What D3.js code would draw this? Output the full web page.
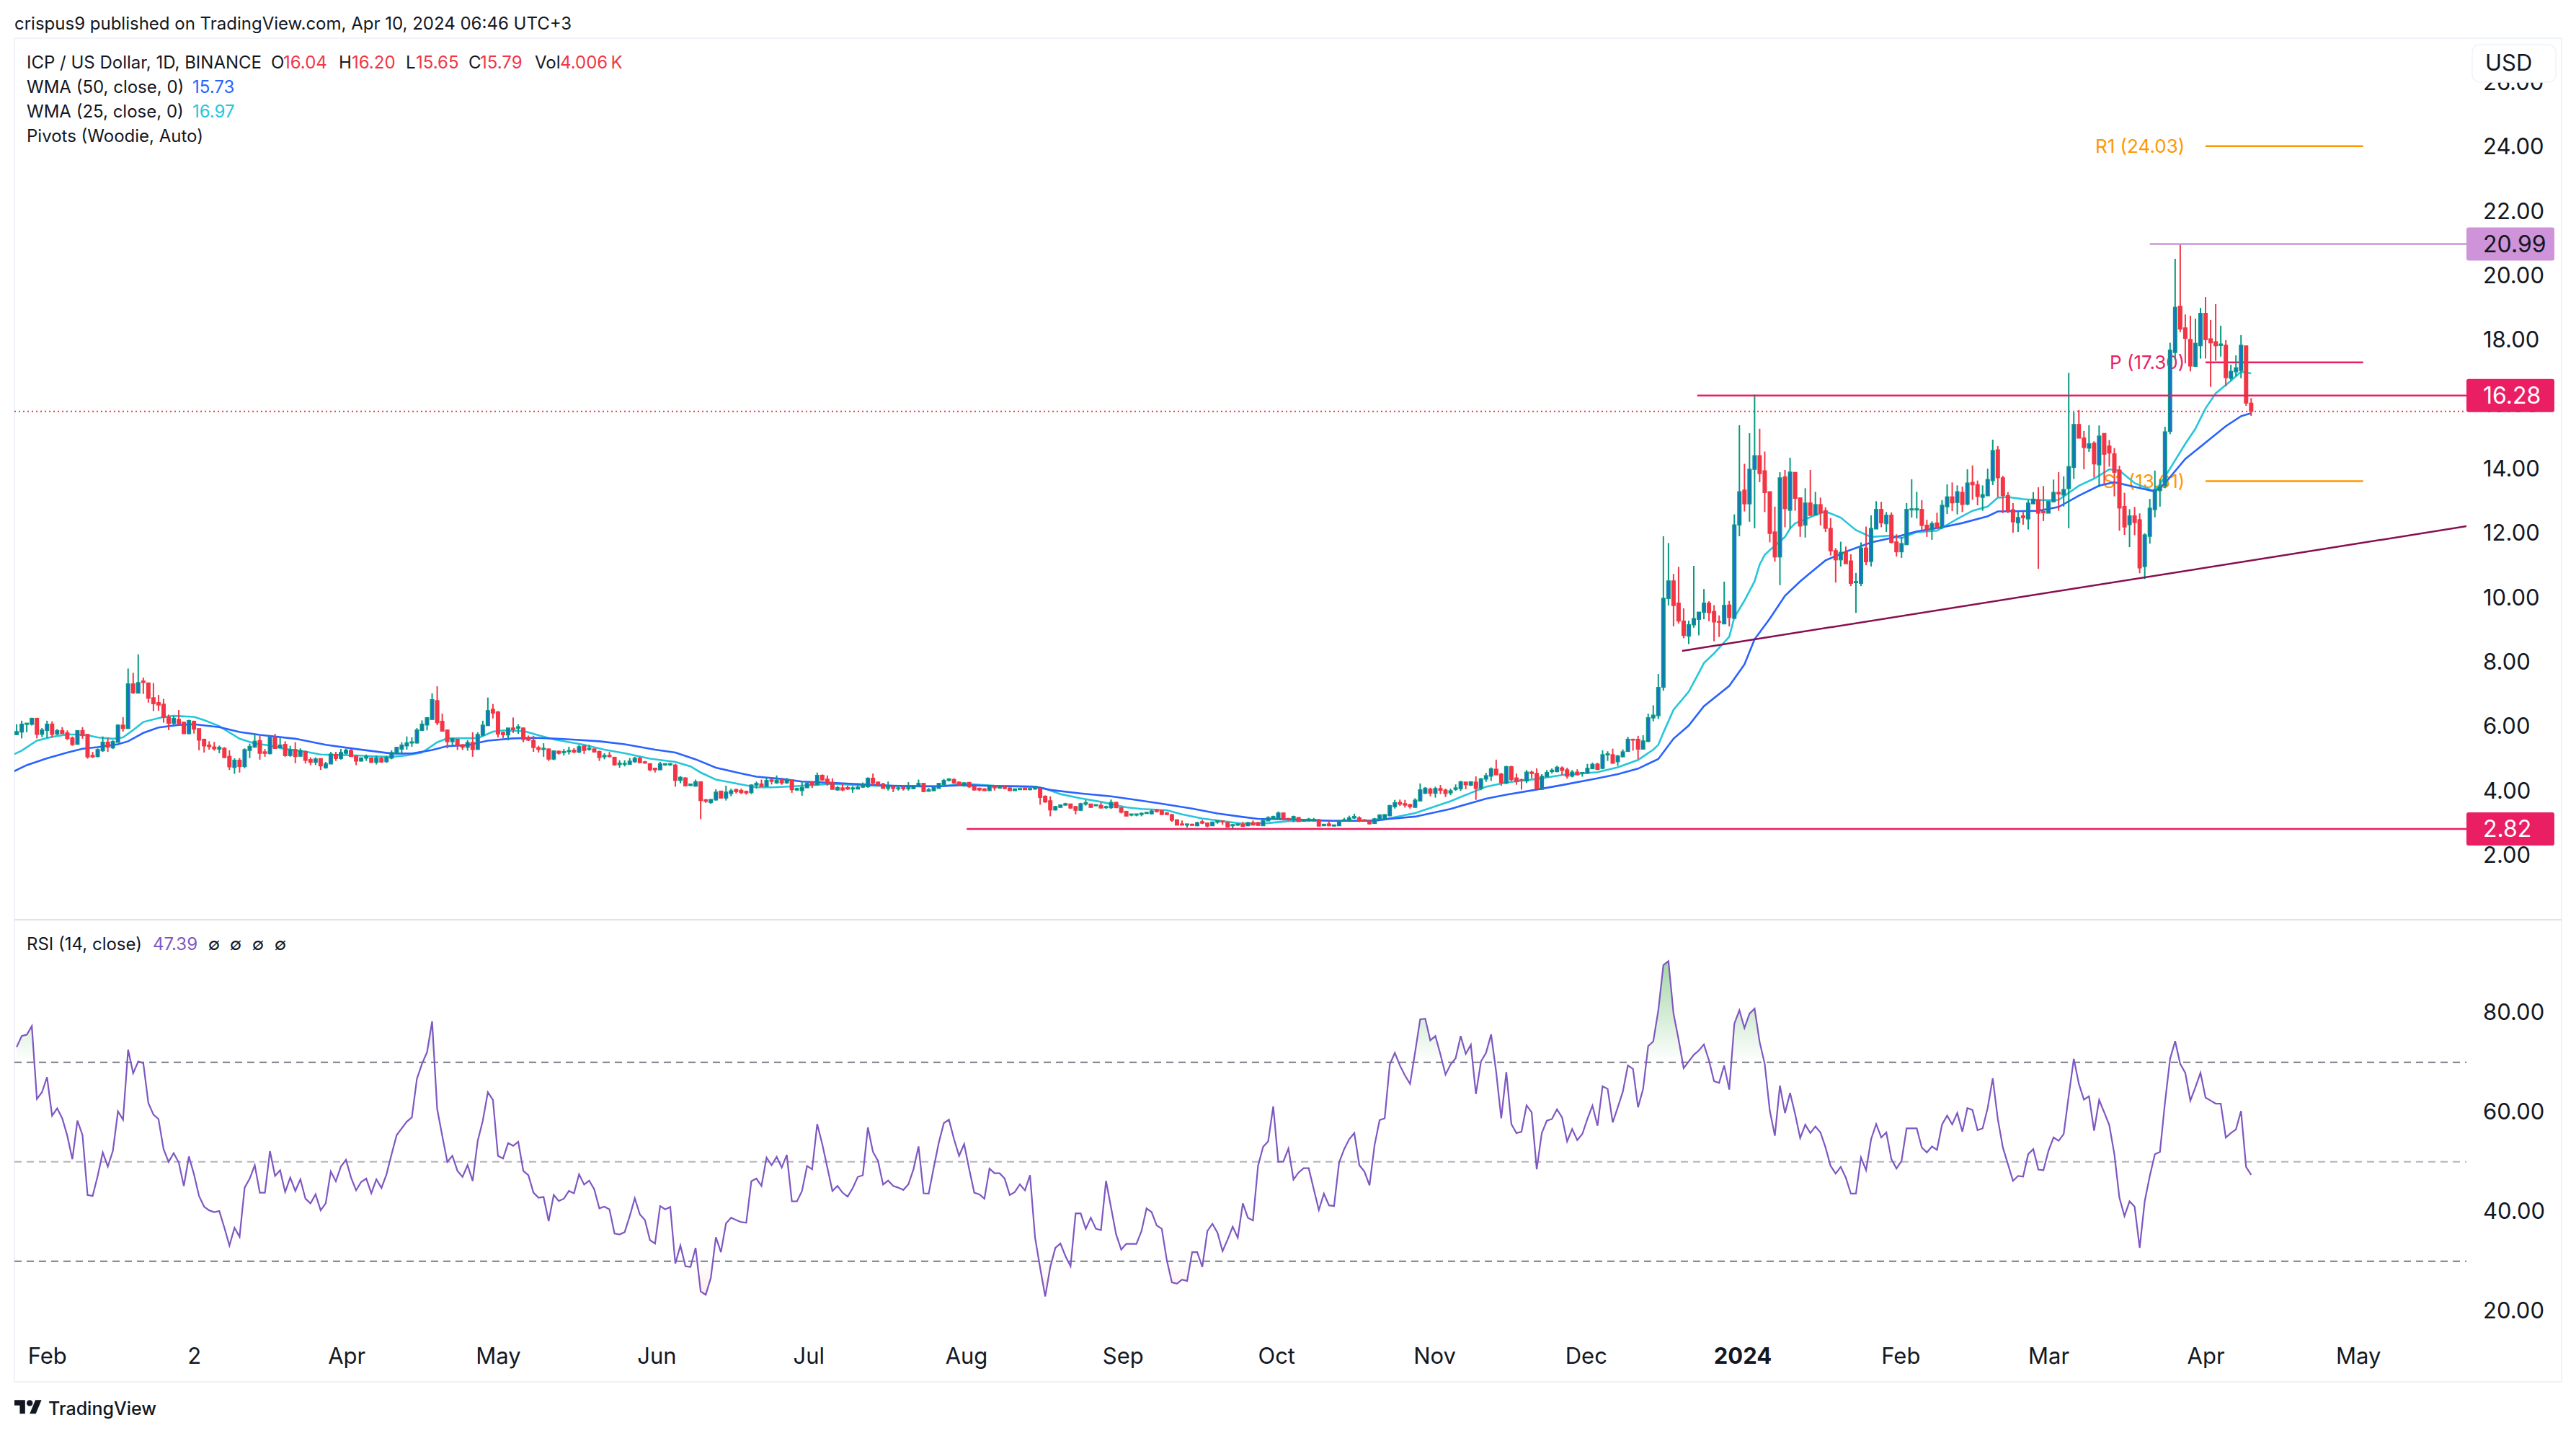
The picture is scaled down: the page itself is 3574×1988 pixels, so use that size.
<!DOCTYPE html>
<html>
<head>
<meta charset="utf-8">
<script src="https://cdn.jsdelivr.net/npm/d3@7"></script>
<style>
body { margin: 0; background: #fff; }
text { font-family: Inter, "Noto Sans", sans-serif; fill: #131722; }
</style>
</head>
<body>
<script>
// daily candles
var opens = [
5.75,5.83,6.07,6.07,6.25,5.76,5.88,6.07,5.77,5.87,5.80,5.64,5.45,5.87,5.75,5.10,5.07,5.25,5.51,5.34,
5.51,6.04,5.94,7.32,7.04,7.41,7.35,6.89,6.74,6.69,6.29,6.10,6.22,6.13,5.78,6.16,5.93,5.60,5.42,5.36,
5.30,5.32,5.07,4.73,4.95,4.76,5.26,5.36,5.56,5.21,5.16,5.66,5.34,5.44,5.10,5.28,5.08,5.22,4.97,4.89,
5.00,4.72,4.84,5.13,5.01,5.17,5.25,5.08,4.93,5.02,5.02,4.89,5.01,4.91,5.02,5.17,5.30,5.40,5.49,5.49,
5.88,6.05,6.22,6.80,6.16,5.89,5.53,5.60,5.43,5.36,5.50,5.29,5.73,6.03,6.53,6.45,5.81,5.74,5.95,5.95,
5.95,5.62,5.57,5.34,5.29,5.30,4.99,5.23,5.19,5.22,5.26,5.21,5.39,5.29,5.30,5.22,5.06,5.10,5.04,4.82,
4.83,4.83,4.91,5.01,4.90,4.84,4.70,4.66,4.81,4.81,4.80,4.33,4.40,4.17,4.15,4.28,3.72,3.64,3.72,3.99,
3.78,3.92,4.04,4.01,3.98,3.95,4.18,4.21,4.14,4.34,4.25,4.32,4.25,4.34,4.03,4.01,4.10,4.26,4.19,4.48,
4.36,4.26,4.03,4.09,4.10,4.06,4.06,4.12,4.13,4.39,4.27,4.21,4.08,4.13,4.07,4.11,4.07,4.07,4.15,4.23,
3.99,4.01,4.08,4.20,4.33,4.35,4.27,4.16,4.26,4.13,4.08,4.06,4.01,4.14,4.09,4.13,4.09,4.01,4.04,4.08,
4.04,
4.06,4.07,3.83,3.69,3.41,3.49,3.56,3.59,3.51,3.40,3.59,3.59,3.54,3.55,3.48,3.48,3.64,3.48,3.36,3.25,
3.25,3.27,3.30,3.29,3.40,3.38,3.31,3.26,3.10,2.97,2.94,2.96,2.92,3.04,3.00,2.92,3.03,3.06,3.01,2.92,
2.94,2.96,2.92,3.01,3.01,2.92,3.07,3.13,3.13,3.31,3.14,3.13,3.17,3.06,3.07,3.07,3.10,2.92,2.97,2.91,
2.92,3.06,3.07,3.16,3.16,3.10,3.06,2.99,3.12,3.13,3.23,3.51,3.64,3.60,3.57,3.49,3.69,3.93,4.05,3.93,
4.07,4.02,3.94,4.05,4.07,4.27,4.18,4.27,4.08,4.37,4.46,4.67,4.52,4.24,4.75,4.40,4.35,4.31,4.58,4.54,
4.05,4.44,4.60,4.60,4.71,4.65,4.46,4.58,4.55,4.55,4.69,4.83,4.70,5.12,5.12,4.91,5.06,5.23,5.60,5.60,
5.30,5.54,6.27,6.34,7.22,9.98,10.52,9.83,9.27,8.81,9.16,9.33,9.55,9.83,9.57,9.26,9.19,9.77,9.36,12.26,
13.34,12.92,13.99,14.41,13.94,13.29,12.04,11.27,13.75,12.72,13.89,13.10,12.26,12.94,12.57,12.89,12.70,12.15,11.46,11.18,
11.41,11.14,10.47,10.45,11.54,11.13,12.14,12.74,12.30,12.56,11.73,11.43,11.65,12.73,12.73,12.74,12.25,12.12,12.32,12.19,
12.83,13.13,12.96,13.27,12.91,13.58,13.51,13.12,13.17,13.64,14.59,13.72,13.17,12.73,12.33,12.54,12.45,12.92,13.04,12.68,
12.63,12.98,13.27,13.19,13.39,14.05,15.38,14.96,14.65,14.80,14.13,15.10,14.71,14.47,13.96,12.83,12.27,12.54,12.42,10.97,
11.91,12.74,13.33,13.48,15.17,17.62,19.05,18.38,18.02,17.19,17.83,18.83,18.04,17.95,17.84,17.84,16.82,17.02,17.06,17.82,16.04];

var highs = [
6.07,6.18,6.10,6.27,6.27,5.95,6.18,6.16,5.92,5.98,5.88,5.69,5.88,5.98,5.77,5.21,5.32,5.69,5.66,5.57,
6.07,6.29,7.80,7.67,8.24,7.52,7.35,7.35,6.98,6.86,6.37,6.33,6.51,6.14,6.21,6.18,5.93,5.62,5.54,5.52,
5.41,5.36,5.26,5.01,5.02,5.32,5.47,5.77,5.71,5.30,5.68,5.77,5.64,5.54,5.40,5.51,5.32,5.25,5.04,5.04,
5.01,4.90,5.21,5.21,5.30,5.31,5.30,5.10,5.04,5.13,5.04,5.10,5.06,5.08,5.26,5.37,5.51,5.69,5.66,5.95,
6.19,6.29,7.03,7.25,6.40,5.90,5.64,5.62,5.45,5.58,5.82,5.82,6.18,6.90,6.70,6.48,5.84,5.95,6.28,6.07,
5.97,5.72,5.71,5.40,5.48,5.31,5.25,5.25,5.30,5.37,5.33,5.43,5.43,5.43,5.32,5.25,5.17,5.21,5.06,4.95,
4.95,5.02,5.06,5.06,4.93,4.86,4.72,4.90,4.86,4.87,4.84,4.46,4.42,4.22,4.35,4.28,3.75,3.75,4.05,3.99,
4.16,4.07,4.07,4.07,4.01,4.20,4.29,4.35,4.42,4.40,4.48,4.40,4.40,4.35,4.10,4.29,4.29,4.27,4.57,4.51,
4.48,4.39,4.15,4.25,4.16,4.15,4.24,4.26,4.42,4.54,4.29,4.25,4.29,4.15,4.18,4.18,4.27,4.18,4.35,4.24,
4.09,4.16,4.24,4.37,4.39,4.39,4.29,4.25,4.27,4.16,4.10,4.08,4.16,4.18,4.18,4.16,4.10,4.07,4.09,4.10,
4.10,
4.15,4.10,3.86,3.83,3.53,3.58,3.63,3.60,3.53,3.63,3.72,3.60,3.58,3.64,3.54,3.73,3.66,3.49,3.38,3.28,
3.29,3.33,3.34,3.42,3.44,3.40,3.34,3.28,3.10,3.08,2.98,2.98,3.04,3.10,3.01,3.04,3.08,3.08,3.03,2.97,
2.98,3.04,3.04,3.08,3.04,3.10,3.21,3.23,3.36,3.33,3.16,3.23,3.18,3.13,3.16,3.16,3.13,2.97,3.08,2.95,
3.10,3.16,3.23,3.29,3.21,3.12,3.08,3.16,3.27,3.27,3.57,3.72,3.73,3.72,3.60,3.77,4.23,4.12,4.10,4.13,
4.18,4.07,4.07,4.20,4.31,4.28,4.29,4.45,4.40,4.56,4.73,4.97,4.56,4.78,4.78,4.54,4.37,4.65,4.63,4.70,
4.52,4.65,4.70,4.78,4.76,4.72,4.65,4.67,4.58,4.84,4.88,4.87,5.26,5.23,5.31,5.12,5.29,5.68,5.62,5.71,
5.73,6.40,6.66,7.63,11.91,11.70,10.74,10.96,9.67,9.29,10.99,9.55,10.27,9.89,9.77,9.45,10.50,9.90,12.59,15.36,
14.16,15.11,16.31,15.25,14.54,13.29,12.83,13.90,13.97,14.35,13.90,13.10,13.40,13.97,13.29,13.11,12.81,12.47,11.54,11.74,
11.59,11.35,10.77,11.72,12.21,12.56,13.00,12.98,12.66,12.65,11.97,11.89,12.94,13.68,13.29,13.03,12.42,12.37,12.64,13.03,
13.52,13.58,13.49,13.45,13.99,14.11,13.64,13.49,14.01,14.91,14.71,13.79,13.28,12.94,12.68,12.66,13.03,13.28,13.43,13.47,
13.00,13.67,13.90,13.77,16.99,15.76,15.83,15.18,15.36,14.86,15.35,15.10,14.90,14.65,14.10,13.26,12.75,12.82,12.62,12.00,
13.07,13.95,13.68,15.31,17.92,20.53,20.99,18.80,18.76,18.67,19.00,19.34,18.63,19.12,18.45,18.00,17.24,17.53,18.16,17.82,16.20];

var lows = [
5.73,5.63,5.82,6.03,5.63,5.67,5.64,5.66,5.73,5.77,5.58,5.40,5.44,5.62,5.00,5.02,5.04,5.21,5.21,5.30,
5.51,5.84,5.94,7.01,7.04,7.01,6.74,6.48,6.49,6.12,5.89,6.00,6.03,5.78,5.76,5.78,5.26,5.19,5.28,5.25,
5.17,5.02,4.65,4.53,4.57,4.70,5.02,5.36,4.97,5.06,5.13,5.31,5.34,5.06,5.06,4.86,5.06,4.85,4.80,4.80,
4.65,4.69,4.84,4.93,4.97,5.13,5.06,4.80,4.91,4.93,4.87,4.82,4.87,4.87,4.98,5.13,5.13,5.28,5.37,5.47,
5.86,5.88,6.22,6.04,5.84,5.32,5.42,5.27,5.27,5.25,5.06,5.28,5.69,6.03,6.25,5.66,5.64,5.57,5.80,5.77,
5.51,5.55,5.21,5.19,5.06,4.93,4.95,5.13,5.10,5.13,5.17,5.17,5.15,5.25,5.19,4.93,4.98,5.04,4.78,4.72,
4.76,4.81,4.87,4.86,4.84,4.61,4.57,4.64,4.78,4.78,4.13,4.24,4.15,4.15,4.13,3.12,3.63,3.60,3.70,3.77,
3.70,3.83,3.92,3.90,3.88,3.90,4.07,4.14,4.14,4.20,4.22,4.19,4.22,3.94,4.00,3.85,4.09,4.09,4.18,4.31,
4.16,4.05,4.01,3.99,4.03,3.94,4.05,4.09,4.10,4.16,4.15,4.07,4.01,3.96,4.01,4.01,4.01,4.05,4.13,3.96,
3.98,3.99,4.08,4.18,4.29,4.22,4.16,4.13,4.09,4.01,3.99,4.00,4.00,4.01,4.07,4.05,4.00,4.01,4.03,4.03,
4.02,
4.04,3.57,3.63,3.21,3.39,3.48,3.54,3.44,3.27,3.38,3.54,3.47,3.54,3.46,3.44,3.44,3.48,3.30,3.21,3.21,
3.21,3.21,3.29,3.27,3.33,3.25,3.25,3.04,2.93,2.93,2.86,2.92,2.90,2.97,2.87,2.91,2.98,2.95,2.86,2.84,
2.91,2.90,2.90,2.93,2.91,2.91,3.06,3.12,3.12,3.08,3.07,3.03,3.05,3.05,3.06,3.06,2.90,2.91,2.90,2.90,
2.91,3.04,3.06,3.13,3.03,3.06,2.95,2.98,3.10,3.12,3.21,3.45,3.53,3.48,3.45,3.48,3.68,3.90,3.83,3.79,
3.90,3.81,3.87,4.00,4.00,4.05,4.15,3.72,4.02,4.28,4.31,4.50,4.16,4.21,4.30,4.19,4.04,4.24,4.39,4.07,
4.03,4.43,4.54,4.58,4.49,4.38,4.42,4.49,4.44,4.54,4.69,4.65,4.67,4.93,4.86,4.78,5.05,5.21,5.25,4.99,
5.29,5.51,6.16,6.23,7.11,9.76,9.11,9.20,8.74,8.56,9.07,8.83,9.33,9.27,8.65,8.78,9.18,9.11,9.36,11.91,
12.68,12.36,12.16,13.59,12.66,11.72,11.12,10.39,12.19,12.14,12.70,11.89,11.87,12.56,12.56,12.25,12.04,11.31,10.47,10.97,
11.06,10.36,9.53,10.36,11.01,10.97,12.13,12.19,12.04,11.69,11.28,11.24,11.65,12.49,12.46,12.08,11.89,11.80,12.13,12.13,
12.60,12.69,12.59,12.66,12.87,13.04,12.87,12.70,13.16,13.50,13.13,12.63,12.63,12.02,12.04,12.27,12.12,12.92,10.90,12.38,
12.63,12.98,12.70,12.83,12.16,13.69,14.96,13.99,14.53,13.73,13.43,13.52,14.07,13.15,12.08,11.95,11.57,11.94,10.76,10.58,
11.68,12.50,12.83,13.40,15.08,17.39,18.25,17.28,17.03,17.18,17.43,17.43,16.55,17.36,17.49,16.57,16.74,16.88,16.82,15.96,15.65];

var closes = [
5.84,6.07,6.10,6.25,5.76,5.89,6.07,5.76,5.87,5.78,5.63,5.44,5.87,5.72,5.06,5.06,5.28,5.51,5.36,5.53,
6.04,5.94,7.32,7.05,7.36,7.37,6.88,6.71,6.67,6.28,6.10,6.25,6.10,5.78,6.18,5.92,5.58,5.40,5.38,5.31,
5.35,5.04,4.75,4.95,4.76,5.28,5.38,5.54,5.17,5.17,5.66,5.32,5.42,5.10,5.28,5.07,5.25,4.95,4.89,4.99,
4.78,4.84,5.14,5.01,5.19,5.26,5.07,4.93,5.02,5.06,4.89,5.02,4.90,5.04,5.19,5.35,5.42,5.49,5.52,5.89,
6.07,6.27,6.83,6.12,5.86,5.53,5.62,5.42,5.36,5.50,5.29,5.75,6.04,6.49,6.42,5.77,5.75,5.95,5.91,5.99,
5.60,5.58,5.35,5.29,5.32,4.99,5.24,5.17,5.22,5.25,5.21,5.37,5.26,5.32,5.21,5.04,5.10,5.07,4.81,4.86,
4.85,4.92,5.01,4.88,4.87,4.66,4.66,4.84,4.84,4.84,4.33,4.42,4.16,4.21,4.28,3.70,3.68,3.73,3.96,3.78,
3.96,4.00,3.98,3.95,3.94,4.18,4.23,4.14,4.32,4.30,4.33,4.25,4.35,4.04,4.07,4.10,4.23,4.19,4.48,4.34,
4.22,4.05,4.10,4.03,4.06,4.09,4.11,4.18,4.39,4.25,4.18,4.08,4.12,4.08,4.09,4.07,4.10,4.16,4.23,3.98,
4.03,4.10,4.23,4.32,4.37,4.25,4.19,4.25,4.13,4.03,4.03,4.01,4.13,4.10,4.14,4.08,4.01,4.06,4.07,4.04,
4.07,
4.12,3.80,3.66,3.41,3.51,3.56,3.60,3.47,3.40,3.60,3.63,3.49,3.57,3.47,3.51,3.64,3.48,3.34,3.22,3.28,
3.28,3.30,3.33,3.37,3.36,3.27,3.27,3.09,2.94,2.94,2.97,2.93,3.01,3.00,2.91,3.03,3.07,3.04,2.88,2.95,
2.97,2.90,3.01,2.94,2.93,3.08,3.17,3.20,3.31,3.13,3.11,3.20,3.05,3.11,3.12,3.11,2.91,2.96,2.92,2.94,
3.06,3.10,3.16,3.20,3.06,3.07,2.98,3.13,3.25,3.26,3.54,3.63,3.59,3.56,3.51,3.71,4.03,4.08,3.93,4.07,
4.02,3.92,4.00,4.09,4.28,4.19,4.28,4.08,4.37,4.47,4.68,4.50,4.26,4.75,4.35,4.29,4.34,4.58,4.54,4.07,
4.45,4.57,4.64,4.73,4.64,4.46,4.58,4.50,4.57,4.70,4.82,4.67,5.12,5.15,4.86,5.08,5.21,5.60,5.58,5.30,
5.55,6.27,6.35,7.21,9.98,10.52,9.76,9.28,8.83,9.16,9.35,9.55,9.83,9.54,9.25,9.24,9.76,9.39,12.26,13.29,
12.92,13.99,14.41,13.86,13.27,12.00,11.27,13.72,12.77,13.90,13.09,12.23,12.94,12.56,12.89,12.64,12.16,11.46,11.18,11.41,
11.06,10.45,10.50,11.54,11.12,12.15,12.74,12.33,12.56,11.72,11.43,11.68,12.74,12.76,12.76,12.25,12.13,12.30,12.19,12.87,
13.13,12.95,13.29,12.90,13.56,13.51,13.15,13.20,13.67,14.57,13.73,13.18,12.70,12.36,12.49,12.49,12.94,13.06,12.63,12.64,
12.99,13.27,13.23,13.36,14.07,15.38,14.96,14.67,14.78,14.16,15.02,14.46,14.50,13.90,12.79,12.20,12.54,12.34,10.93,11.95,
12.78,13.36,13.44,15.15,17.69,19.02,18.35,18.06,17.20,17.90,18.83,18.02,17.92,17.83,17.88,16.84,17.03,17.14,17.84,16.05,15.79];

// moving averages, read at the bars listed in the *Bars arrays
var wma25Bars = [-1,1,4,7,10,12,14,16,19,21,23,25,29,31,35,37,40,44,47,50,53,57,60,62,67,71,74,77,80,82,83,85,88,91,94,96,100,103,106,112,116,120,125,130,133,135,138,143,146,149,153,157,161,166,171,175,182,187,193,201,203,206,210,214,219,222,227,230,234,239,242,247,251,256,260,266,270,276,283,290,294,300,305,312,316,320,323,324,325,327,330,332,333,335,338,339,341,343,344,345,346,349,350,351,355,357,360,363,366,370,372,375,379,383,386,389,391,393,396,399,403,407,410,413,415,418,422,424,428,430,432,434,437,439,441];
var wma25 = [5.10,5.25,5.56,5.68,5.75,5.75,5.73,5.66,5.62,5.66,5.89,6.14,6.30,6.33,6.30,6.20,6.01,5.62,5.47,5.41,5.30,5.22,5.13,5.12,5.10,5.07,5.06,5.10,5.19,5.40,5.51,5.63,5.64,5.64,5.84,5.88,5.86,5.73,5.60,5.43,5.28,5.17,5.00,4.90,4.76,4.57,4.35,4.20,4.11,4.11,4.14,4.18,4.22,4.18,4.15,4.15,4.14,4.22,4.16,4.13,4.07,3.90,3.77,3.66,3.49,3.44,3.40,3.27,3.14,3.04,2.98,3.00,3.06,3.08,3.07,3.07,3.12,3.31,3.68,4.13,4.26,4.37,4.49,4.58,4.73,4.96,5.28,5.43,5.81,6.52,7.08,7.67,7.97,8.27,8.79,9.39,9.91,10.51,11.03,11.33,11.48,11.89,12.15,12.31,12.57,12.68,12.49,12.10,11.89,11.93,11.85,12.04,12.08,12.45,12.70,12.83,13.11,13.13,13.06,13.03,13.04,13.48,13.70,13.99,13.95,13.56,13.30,13.76,14.78,15.25,15.88,16.35,16.74,17.02,16.97];
var wma50Bars = [-1,2,6,10,13,16,20,22,25,28,32,35,40,44,48,55,61,67,74,78,82,85,89,93,98,102,108,115,120,126,130,134,138,143,146,151,155,161,166,173,178,183,187,193,201,204,210,216,221,226,232,237,242,245,251,256,260,268,271,276,283,290,294,300,305,312,316,320,324,327,330,333,338,341,343,346,349,352,354,357,361,366,371,375,380,384,389,391,399,403,407,411,414,418,422,424,428,432,436,439,441];
var wma50 = [4.57,4.80,5.01,5.19,5.31,5.36,5.45,5.54,5.80,5.97,6.05,6.07,5.98,5.83,5.74,5.62,5.43,5.30,5.16,5.16,5.27,5.39,5.42,5.56,5.63,5.65,5.61,5.54,5.45,5.28,5.19,4.98,4.72,4.54,4.44,4.37,4.29,4.25,4.21,4.16,4.14,4.15,4.18,4.15,4.13,4.03,3.92,3.83,3.72,3.60,3.45,3.30,3.19,3.13,3.12,3.09,3.07,3.07,3.13,3.20,3.44,3.76,3.88,4.04,4.18,4.39,4.52,4.69,4.99,5.62,6.03,6.63,7.26,7.93,8.71,9.35,10.06,10.51,10.77,11.16,11.43,11.72,11.89,12.06,12.19,12.32,12.53,12.68,12.70,12.82,13.17,13.48,13.59,13.44,13.30,13.56,14.31,14.82,15.33,15.64,15.73];

var rsiValues = [
73.07,75.29,75.56,77.31,62.64,63.99,67.01,59.28,60.76,58.74,55.24,50.53,58.27,55.37,43.33,43.13,47.17,51.88,49.05,52.21,
60.15,58.47,72.53,67.82,70.18,69.84,61.83,59.48,58.60,52.55,49.99,51.74,49.86,45.15,51.07,47.50,43.13,40.98,40.24,39.90,
40.10,36.74,33.17,36.74,34.92,44.81,46.63,49.32,43.80,43.80,52.15,47.17,48.31,43.94,46.83,44.14,46.49,42.59,41.65,43.47,
40.24,41.65,48.04,46.09,49.05,50.40,46.83,44.27,45.95,46.63,43.67,46.49,44.74,47.50,51.54,55.37,56.72,58.07,58.94,66.68,
69.70,72.06,78.25,60.62,55.24,49.99,51.20,48.18,46.96,49.32,46.16,54.23,58.27,63.99,62.44,51.20,50.66,53.76,53.22,54.03,
48.18,47.30,43.80,42.79,42.93,38.08,43.33,42.12,42.59,44.14,43.67,47.50,45.42,46.23,44.47,40.64,40.98,40.44,35.59,35.39,
35.86,39.09,42.66,39.43,38.29,34.25,33.57,41.11,40.44,40.91,29.54,33.17,29.00,28.87,32.70,23.95,23.28,26.65,34.85,31.83,
37.61,38.76,38.29,37.88,37.75,46.09,46.63,45.15,50.87,49.32,51.00,48.85,51.41,42.05,42.05,44.14,49.18,48.51,57.59,53.56,
48.85,44.14,45.15,43.80,42.99,44.68,46.96,47.30,56.92,52.01,50.19,45.42,46.23,45.15,44.81,44.34,45.48,48.51,53.09,43.67,
43.60,48.85,53.89,57.80,58.47,54.57,51.20,53.56,48.51,43.80,43.47,42.59,48.65,47.70,47.70,46.63,43.33,43.94,45.48,44.27,
47.30,34.72,28.66,22.95,28.87,32.70,33.57,31.02,29.00,39.63,39.63,36.54,38.76,36.54,36.27,46.16,40.77,35.39,32.36,33.51,
33.51,33.51,36.07,40.64,39.90,37.21,36.54,30.21,25.77,25.50,26.31,26.04,31.83,31.83,28.87,36.07,37.55,35.73,32.03,34.38,
36.94,34.72,41.65,38.76,38.22,49.18,53.02,54.10,61.16,49.99,50.06,52.68,46.43,47.84,48.71,48.71,44.50,40.30,43.60,41.25,
41.11,49.86,52.55,54.57,55.78,49.32,48.04,45.28,53.36,58.40,58.74,69.57,71.92,69.37,67.35,65.67,72.06,78.65,78.79,74.42,
75.29,71.59,67.55,69.57,70.85,75.29,71.72,73.54,63.65,70.18,71.92,75.63,68.02,58.74,68.02,57.59,55.78,56.05,61.36,59.95,
48.51,55.78,58.27,58.60,60.55,58.94,54.10,56.59,54.37,55.58,58.60,61.30,57.26,65.20,64.66,57.93,60.96,64.12,69.37,68.70,
60.96,64.66,73.27,74.21,80.47,89.55,90.36,79.80,74.62,68.83,70.18,71.52,72.40,73.61,70.38,66.21,65.87,69.37,64.52,
77.78,80.47,76.90,79.80,80.81,74.08,69.70,60.29,55.24,65.33,59.81,63.85,59.61,54.77,57.46,55.78,57.12,55.91,52.88,49.18,
47.64,48.98,46.83,43.60,43.60,50.87,48.31,54.57,57.59,54.90,55.91,50.53,48.65,50.19,56.72,56.72,56.72,52.88,51.88,53.09,
52.41,57.53,59.28,57.53,59.81,56.05,60.82,60.42,56.38,56.72,60.82,66.81,58.60,52.88,49.52,46.16,47.17,47.03,51.54,52.55,
48.45,48.31,52.21,54.90,54.23,55.58,63.31,70.71,65.67,62.51,63.18,56.25,62.44,59.95,57.39,51.54,42.79,39.09,42.05,40.98,
32.70,42.12,47.17,51.54,52.01,61.97,70.71,74.28,69.70,67.89,62.30,65.00,67.89,62.91,62.30,61.70,61.70,54.90,55.78,56.52,
60.22,48.98,47.39];

// axis ticks (bar position of each month label)
var timeTickBars = [6,35,65.1,95,126.3,156.3,187.4,218.3,248.6,279.8,309.7,340.6,371.8,401,432,462.1];
var timeTickLabels = ["Feb","2","Apr","May","Jun","Jul","Aug","Sep","Oct","Nov","Dec","2024","Feb","Mar","Apr","May"];
var priceTicks = [2,4,6,8,10,12,14,16,18,20,22,24,26];
var rsiTicks = [20,40,60,80];
var rsiBands = [70,50,30];
var lastClose = 15.79;
var pivotNames = ["R1 (24.03)","P (17.30)","S1 (13.61)"];
var pivotLevels = [24.03,17.31,13.62];
var levelValues = [20.99,16.28,2.82];
var levelStartBars = [421,331.7,187.5];
var trendBars = [328.7,483.5];
var trendPrices = [8.35,12.22];

var plotLeft = 20, plotRight = 3422;

var bars = d3.range(closes.length);
var x = d3.scaleLinear().domain([0,441]).range([23.07,3123.3]);
var y = d3.scaleLinear().domain([2,24]).range([1186.5,204]);
var yRsi = d3.scaleLinear().domain([20,80]).range([1818.8,1404.8]);

var svg = d3.select("body").append("svg")
    .attr("width",3574)
    .attr("height",1988)
    .style("display","block");

var defs = svg.append("defs");
defs.append("clipPath").attr("id","plot").append("rect")
    .attr("x",plotLeft).attr("y",54).attr("width",plotRight-plotLeft).attr("height",1860);
defs.append("clipPath").attr("id","over").append("rect")
    .attr("x",plotLeft).attr("y",1277).attr("width",plotRight-plotLeft).attr("height",yRsi(70)-1277);
defs.append("clipPath").attr("id","under").append("rect")
    .attr("x",plotLeft).attr("y",yRsi(30)).attr("width",plotRight-plotLeft).attr("height",1900-yRsi(30));

var gradGreen = defs.append("linearGradient").attr("id","gradOver")
    .attr("gradientUnits","userSpaceOnUse")
    .attr("x1",0).attr("x2",0).attr("y1",yRsi(100)).attr("y2",yRsi(70));
gradGreen.append("stop").attr("offset","0").attr("stop-color","#4caf50").attr("stop-opacity",0.75);
gradGreen.append("stop").attr("offset","1").attr("stop-color","#4caf50").attr("stop-opacity",0);
var gradRed = defs.append("linearGradient").attr("id","gradUnder")
    .attr("gradientUnits","userSpaceOnUse")
    .attr("x1",0).attr("x2",0).attr("y1",yRsi(30)).attr("y2",yRsi(0));
gradRed.append("stop").attr("offset","0").attr("stop-color","#ff5252").attr("stop-opacity",0);
gradRed.append("stop").attr("offset","1").attr("stop-color","#ff5252").attr("stop-opacity",0.5);

// frame
svg.append("rect")
    .attr("x",plotLeft).attr("y",53).attr("width",3534).attr("height",1864)
    .attr("fill","none").attr("stroke","#f0f3fa").attr("stroke-width",2);
svg.append("line")
    .attr("x1",plotLeft).attr("x2",3554).attr("y1",1276).attr("y2",1276)
    .attr("stroke","#e0e3eb").attr("stroke-width",2);

var plot = svg.append("g").attr("clip-path","url(#plot)");

// last price dots
plot.append("line")
    .attr("x1",plotLeft).attr("x2",plotRight).attr("y1",y(lastClose)).attr("y2",y(lastClose))
    .attr("stroke","#f23645").attr("stroke-width",2).attr("stroke-dasharray","2 4");

// pivots sit under the candles
var pivotColors = ["#ff9800","#e91e63","#ff9800"];
plot.selectAll(".pivot").data(pivotLevels).enter().append("line")
    .attr("class","pivot")
    .attr("x1",x(432)).attr("x2",x(463.1))
    .attr("y1",function(d){return y(d);}).attr("y2",function(d){return y(d);})
    .attr("stroke",function(d,i){return pivotColors[i];})
    .attr("stroke-width",2.5);
plot.selectAll(".pivotLabel").data(pivotLevels).enter().append("text")
    .attr("class","pivotLabel")
    .attr("x",x(427.9))
    .attr("y",function(d){return y(d);})
    .attr("dy","0.36em")
    .attr("text-anchor","end")
    .style("font-size","26px")
    .style("fill",function(d,i){return pivotColors[i];})
    .text(function(d,i){return pivotNames[i];});

// moving averages
function maLine(barsArr){
    return d3.line()
        .x(function(d,i){return x(barsArr[i]);})
        .y(function(d){return y(d);});
}
plot.append("path").datum(wma25)
    .attr("d",maLine(wma25Bars))
    .attr("fill","none").attr("stroke","#26c6da").attr("stroke-width",2.6);
plot.append("path").datum(wma50)
    .attr("d",maLine(wma50Bars))
    .attr("fill","none").attr("stroke","#2962ff").attr("stroke-width",2.6);

// candles
var green = "#089981", red = "#f23645", blue = "#1b6fd0";
function isUp(i){ return closes[i] >= opens[i]; }
var candles = plot.selectAll(".candle").data(bars).enter().append("g").attr("class","candle");
candles.append("line")
    .attr("x1",function(i){return x(i);})
    .attr("x2",function(i){return x(i);})
    .attr("y1",function(i){return y(highs[i]);})
    .attr("y2",function(i){return y(lows[i]);})
    .attr("stroke",function(i){return isUp(i) ? green : red;})
    .attr("stroke-width",2);
candles.append("rect")
    .attr("x",function(i){return x(i)-2.2;})
    .attr("width",4.4)
    .attr("y",function(i){return y(Math.max(opens[i],closes[i]));})
    .attr("height",function(i){return Math.max(0.4,Math.abs(y(opens[i])-y(closes[i])));})
    .attr("fill",function(i){return isUp(i) ? blue : red;})
    .attr("stroke",function(i){return isUp(i) ? green : red;})
    .attr("stroke-width",1.6);

// drawings on top
plot.append("line")
    .attr("x1",x(trendBars[0])).attr("x2",x(trendBars[1]))
    .attr("y1",y(trendPrices[0])).attr("y2",y(trendPrices[1]))
    .attr("stroke","#880e4f").attr("stroke-width",2.5);
var levelColors = ["#ce93d8","#e91e63","#e91e63"];
plot.selectAll(".level").data(levelValues).enter().append("line")
    .attr("class","level")
    .attr("x1",function(d,i){return x(levelStartBars[i]);})
    .attr("x2",plotRight)
    .attr("y1",function(d){return y(d);}).attr("y2",function(d){return y(d);})
    .attr("stroke",function(d,i){return levelColors[i];})
    .attr("stroke-width",2.5);

// price axis
var priceAxis = svg.append("g")
    .attr("transform","translate(3445,0)")
    .call(d3.axisRight(y).tickValues(priceTicks).tickSize(0).tickPadding(0)
        .tickFormat(d3.format(".2f")));
priceAxis.select(".domain").remove();
priceAxis.selectAll("text").style("font-size","31px");

// USD button hides the top tick
svg.append("rect")
    .attr("x",3430).attr("y",62).attr("width",116).attr("height",52).attr("rx",10)
    .attr("fill","#fff").attr("stroke","#f0f3fa").attr("stroke-width",1.5);
svg.append("text").attr("x",3448).attr("y",98).style("font-size","31px").text("USD");

// level badges
var levelTextColors = ["#131722","#fff","#fff"];
svg.selectAll(".badge").data(levelValues).enter().append("rect")
    .attr("class","badge")
    .attr("x",plotRight).attr("width",122).attr("height",46).attr("rx",3)
    .attr("y",function(d){return y(d)-23;})
    .attr("fill",function(d,i){return levelColors[i];});
svg.selectAll(".badgeText").data(levelValues).enter().append("text")
    .attr("class","badgeText")
    .attr("x",3445)
    .attr("y",function(d){return y(d);})
    .attr("dy","0.36em")
    .style("font-size","32px")
    .style("fill",function(d,i){return levelTextColors[i];})
    .text(function(d){return d3.format(".2f")(d);});

// RSI bands
svg.selectAll(".band").data(rsiBands).enter().append("line")
    .attr("class","band")
    .attr("x1",plotLeft).attr("x2",plotRight)
    .attr("y1",function(d){return yRsi(d);}).attr("y2",function(d){return yRsi(d);})
    .attr("stroke",function(d){return d==50 ? "#b2b5be" : "#787b86";})
    .attr("stroke-width",2)
    .attr("stroke-dasharray","10 7");

// RSI fills and line
var rsiArea70 = d3.area()
    .x(function(d,i){return x(i);})
    .y0(yRsi(70))
    .y1(function(d){return yRsi(d);});
var rsiArea30 = d3.area()
    .x(function(d,i){return x(i);})
    .y0(yRsi(30))
    .y1(function(d){return yRsi(d);});
svg.append("g").attr("clip-path","url(#over)").append("path").datum(rsiValues)
    .attr("d",rsiArea70).attr("fill","url(#gradOver)");
svg.append("g").attr("clip-path","url(#under)").append("path").datum(rsiValues)
    .attr("d",rsiArea30).attr("fill","url(#gradUnder)");
svg.append("path").datum(rsiValues)
    .attr("d",d3.line().x(function(d,i){return x(i);}).y(function(d){return yRsi(d);}))
    .attr("fill","none").attr("stroke","#7e57c2").attr("stroke-width",2.2);

var rsiAxis = svg.append("g")
    .attr("transform","translate(3445,0)")
    .call(d3.axisRight(yRsi).tickValues(rsiTicks).tickSize(0).tickPadding(0)
        .tickFormat(d3.format(".2f")));
rsiAxis.select(".domain").remove();
rsiAxis.selectAll("text").style("font-size","31px");

// time axis
var timeAxis = svg.append("g")
    .attr("transform","translate(0,1870)")
    .call(d3.axisBottom(x).tickValues(timeTickBars).tickSize(0).tickPadding(0)
        .tickFormat(function(d,i){return timeTickLabels[i];}));
timeAxis.select(".domain").remove();
timeAxis.selectAll("text")
    .style("font-size","31px")
    .style("font-weight",function(d,i){return timeTickLabels[i]=="2024" ? 700 : 400;});

// header and legends
function label(px,py,txt,color,size){
    return svg.append("text").attr("x",px).attr("y",py)
        .style("font-size",(size||24)+"px")
        .style("fill",color||"#131722")
        .text(txt);
}
label(20,41,"crispus9 published on TradingView.com, Apr 10, 2024 06:46 UTC+3","#131722",24);
label(37,95,"ICP / US Dollar, 1D, BINANCE");
label(376,95,"O");  label(393,95,"16.04",red);
label(470,95,"H");  label(488,95,"16.20",red);
label(563,95,"L");  label(577,95,"15.65",red);
label(650,95,"C");  label(666,95,"15.79",red);
label(742,95,"Vol"); label(777,95,"4.006\u2009K",red);
label(37,129,"WMA (50, close, 0)");  label(267,129,"15.73","#2962ff");
label(37,163,"WMA (25, close, 0)");  label(267,163,"16.97","#26c6da");
label(37,197,"Pivots (Woodie, Auto)");
label(37,1318,"RSI (14, close)");   label(212,1318,"47.39","#7e57c2");
[297,327,358,389].forEach(function(px){
    label(px,1318,"\u2205","#131722").attr("text-anchor","middle");
});

// logo
var logo = svg.append("g").attr("transform","translate(20,1938) scale(1.06)").attr("fill","#131722");
logo.append("path").attr("d","M14 22H7V11H0V4h14v18zM28 22h-8l7.5-18h8L28 22z");
logo.append("circle").attr("cx",20).attr("cy",8).attr("r",4);
label(67,1963,"TradingView","#131722",25).style("font-weight",500);
</script>
</body>
</html>
